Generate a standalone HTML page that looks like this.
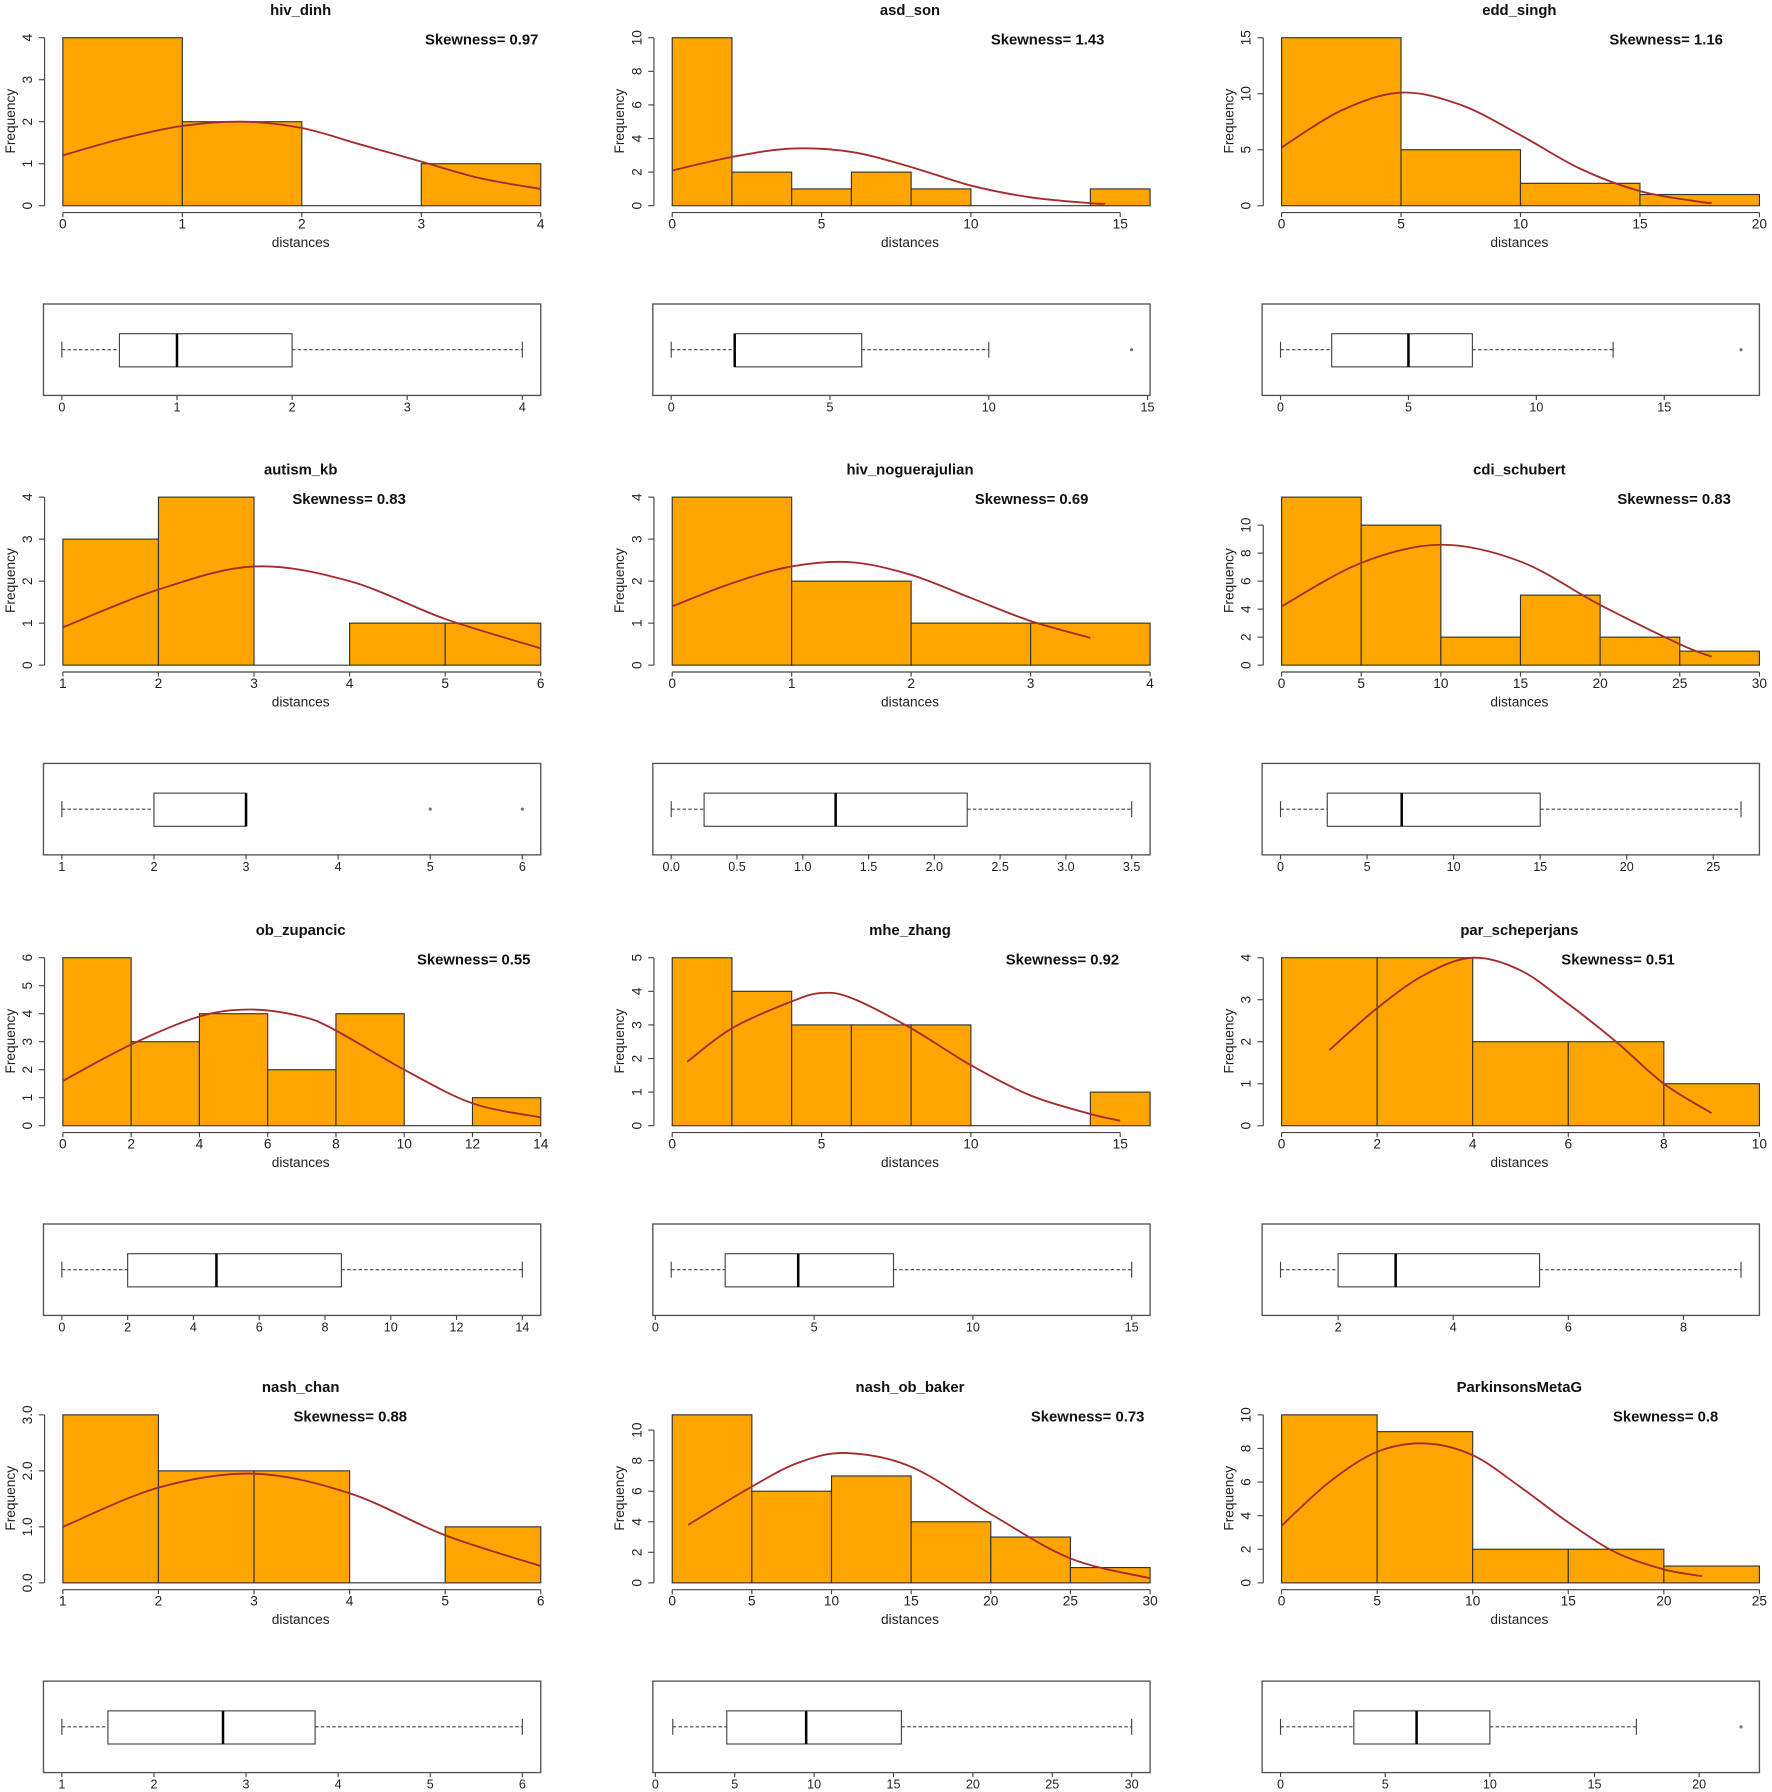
<!DOCTYPE html>
<html><head><meta charset="utf-8"><style>
html,body{margin:0;padding:0;background:#fff;}
svg{display:block;font-family:"Liberation Sans",Arial,sans-serif;}
</style></head><body>
<svg id="chart" width="1772" height="1792" viewBox="0 0 1550 1568" preserveAspectRatio="none" xmlns="http://www.w3.org/2000/svg"></svg>
<script>
// ---- data ----
const titles = ["hiv_dinh","asd_son","edd_singh","autism_kb","hiv_noguerajulian","cdi_schubert","ob_zupancic","mhe_zhang","par_scheperjans","nash_chan","nash_ob_baker","ParkinsonsMetaG"];
const skewness = ["0.97","1.43","1.16","0.83","0.69","0.83","0.55","0.92","0.51","0.88","0.73","0.8"];
const skewRight = [471,433,441,355,419,448,464,446,399,356,468,437];
const breaks = [
 [0,1,2,3,4],[0,2,4,6,8,10,12,14,16],[0,5,10,15,20],[1,2,3,4,5,6],[0,1,2,3,4],[0,5,10,15,20,25,30],
 [0,2,4,6,8,10,12,14],[0,2,4,6,8,10,12,14,16],[0,2,4,6,8,10],[1,2,3,4,5,6],[0,5,10,15,20,25,30],[0,5,10,15,20,25]];
const counts = [
 [4,2,0,1],[10,2,1,2,1,0,0,1],[15,5,2,1],[3,4,0,1,1],[4,2,1,1],[12,10,2,5,2,1],
 [6,3,4,2,4,0,1],[5,4,3,3,3,0,0,1],[4,4,2,2,1],[3,2,2,0,1],[11,6,7,4,3,1],[10,9,2,2,1]];
const xTicks = [
 [0,1,2,3,4],[0,5,10,15],[0,5,10,15,20],[1,2,3,4,5,6],[0,1,2,3,4],[0,5,10,15,20,25,30],
 [0,2,4,6,8,10,12,14],[0,5,10,15],[0,2,4,6,8,10],[1,2,3,4,5,6],[0,5,10,15,20,25,30],[0,5,10,15,20,25]];
const yTicks = [
 [0,1,2,3,4],[0,2,4,6,8,10],[0,5,10,15],[0,1,2,3,4],[0,1,2,3,4],[0,2,4,6,8,10],
 [0,1,2,3,4,5,6],[0,1,2,3,4,5],[0,1,2,3,4],[0,1,2,3],[0,2,4,6,8,10],[0,2,4,6,8,10]];
const yTickLabels = [null,null,null,null,null,null,null,null,null,["0.0","1.0","2.0","3.0"],null,null];
const curveX = [
 [0,0.5,1,1.5,2,2.5,3,3.5,4],[0,2,4,6,8,10,12,14,14.5],[0,2.5,5,7.5,10,12.5,15,17.5,18],
 [1,2,3,4,5,6],[0,0.5,1,1.5,2,2.5,3,3.5],[0,5,10,15,20,25,27],
 [0,2,4,5.5,7,8,10,12,14],[0.5,2,4,5,6,8,10,12,14,15],[1,2,3,4,5,6,7,8,9],
 [1,2,3,4,5,6],[1,5,8,11,15,20,25,30],[0,2.5,5,7.5,10,12.5,15,17.5,20,22]];
const curveY = [
 [1.2,1.6,1.9,2.0,1.85,1.45,1.05,0.65,0.4],[2.1,2.9,3.4,3.2,2.3,1.2,0.5,0.15,0.12],[5.2,8.5,10.1,9.0,6.3,3.3,1.3,0.35,0.25],
 [0.9,1.8,2.35,2.0,1.1,0.4],[1.4,1.95,2.35,2.45,2.15,1.6,1.05,0.65],[4.2,7.3,8.6,7.4,4.3,1.5,0.6],
 [1.6,2.9,3.9,4.15,3.9,3.4,2.0,0.8,0.3],[1.9,2.9,3.7,3.95,3.8,2.9,1.8,0.9,0.35,0.15],[1.8,2.8,3.6,4.0,3.7,2.9,2.0,1.0,0.3],
 [1.0,1.7,1.95,1.6,0.85,0.3],[3.8,6.3,7.9,8.5,7.6,4.5,1.6,0.3],[3.4,6.0,7.8,8.3,7.6,5.7,3.6,1.8,0.8,0.4]];
const boxDomain = [[0,4],[0,14.5],[0,18],[1,6],[0,3.5],[0,26.6],[0,14],[0.5,15],[1,9],[1,6],[1,30],[0,22]];
const boxTicks = [
 [0,1,2,3,4],[0,5,10,15],[0,5,10,15],[1,2,3,4,5,6],[0,0.5,1,1.5,2,2.5,3,3.5],[0,5,10,15,20,25],
 [0,2,4,6,8,10,12,14],[0,5,10,15],[2,4,6,8],[1,2,3,4,5,6],[0,5,10,15,20,25,30],[0,5,10,15,20]];
const boxTickLabels = [null,null,null,null,["0.0","0.5","1.0","1.5","2.0","2.5","3.0","3.5"],null,null,null,null,null,null,null];
// stats: [lowWhisker, q1, median, q3, highWhisker]
const boxStats = [
 [0,0.5,1,2,4],[0,2,2,6,10],[0,2,5,7.5,13],[1,2,3,3,3],[0,0.25,1.25,2.25,3.5],[0,2.7,7,15,26.6],
 [0,2,4.7,8.5,14],[0.5,2.2,4.5,7.5,15],[1,2,3,5.5,9],[1,1.5,2.75,3.75,6],[1.1,4.5,9.5,15.5,30],[0,3.5,6.5,10,17]];
const outliers = [[],[14.5],[18],[5,6],[],[],[],[],[],[],[],[22]];

// ---- drawing ----
const svg = document.getElementById('chart');
const NS = 'http://www.w3.org/2000/svg';
function mk(tag, attrs, parent){ const e=document.createElementNS(NS,tag); for(const k in attrs) e.setAttribute(k,attrs[k]); (parent||svg).appendChild(e); return e; }
const colOff=[0,533,1066], rowOff=[0,402,805,1205];

titles.forEach((t,i)=>{
  const cx=colOff[i%3], cy=rowOff[Math.floor(i/3)];
  const g=mk('g',{transform:`translate(${cx},${cy})`});
  
  
  const bk=breaks[i], ct=counts[i];
  const x0=bk[0], x1=bk[bk.length-1], ymax=Math.max(...ct);
  const X=v=>55+(v-x0)/(x1-x0)*418;
  const Y=v=>180-v/ymax*147;
  const title=mk('text',{x:263,y:13,'text-anchor':'middle','font-size':13,'font-weight':'bold',fill:'#111'},g);
  title.textContent=t;
  
  
  const sk=mk('text',{x:skewRight[i],y:39,'text-anchor':'end','font-size':13,'font-weight':'bold',fill:'#111'},g);
  sk.textContent='Skewness= '+skewness[i];
  
  
  // bars
  ct.forEach((c,j)=>{
    if(c<=0) { const l=mk('line',{x1:X(bk[j]),x2:X(bk[j+1]),y1:180,y2:180,stroke:'#333','stroke-width':1},g);
        return; }
    const r=mk('rect',{x:X(bk[j]),y:Y(c),width:X(bk[j+1])-X(bk[j]),height:180-Y(c),fill:'#FFA500',stroke:'#333','stroke-width':1},g);
    
    
  });
  // curve (Catmull-Rom)
  const pts=curveX[i].map((v,k)=>[X(v),Y(curveY[i][k])]);
  let d=`M${pts[0][0]},${pts[0][1]}`;
  for(let k=0;k<pts.length-1;k++){
    const p0=pts[Math.max(0,k-1)],p1=pts[k],p2=pts[k+1],p3=pts[Math.min(pts.length-1,k+2)];
    d+=` C${p1[0]+(p2[0]-p0[0])/6},${p1[1]+(p2[1]-p0[1])/6} ${p2[0]-(p3[0]-p1[0])/6},${p2[1]-(p3[1]-p1[1])/6} ${p2[0]},${p2[1]}`;
  }
  const cv=mk('path',{d:d,fill:'none',stroke:'#A52A2A','stroke-width':1.6},g);
  
  
  // y axis
  const yt=yTicks[i];
  const ya=mk('line',{x1:39,x2:39,y1:Y(yt[0]),y2:Y(yt[yt.length-1]),stroke:'#444','stroke-width':1},g);
   
  yt.forEach((v,k)=>{
    mk('line',{x1:34,x2:39,y1:Y(v),y2:Y(v),stroke:'#444'},g);
    const tl=mk('text',{x:0,y:0,transform:`translate(28,${Y(v)}) rotate(-90)`,'text-anchor':'middle','font-size':12,fill:'#222'},g);
    tl.textContent=yTickLabels[i]?yTickLabels[i][k]:String(v);
     
  });
  const yl=mk('text',{x:0,y:0,transform:'translate(13,106) rotate(-90)','text-anchor':'middle','font-size':12,fill:'#222'},g);
  yl.textContent='Frequency';
   
  // x axis
  const xt=xTicks[i];
  const xa=mk('line',{x1:X(xt[0]),x2:X(xt[xt.length-1]),y1:186,y2:186,stroke:'#444'},g);
   
  xt.forEach(v=>{
    mk('line',{x1:X(v),x2:X(v),y1:186,y2:190,stroke:'#444'},g);
    const tl=mk('text',{x:X(v),y:200,'text-anchor':'middle','font-size':12,fill:'#222'},g);
    tl.textContent=String(v);
     
  });
  const xl=mk('text',{x:263,y:216,'text-anchor':'middle','font-size':12,fill:'#222'},g);
  xl.textContent='distances';
   
  // boxplot
  const [lo,hi]=boxDomain[i], pad=(hi-lo)*0.04;
  const BX=v=>38+(v-lo+pad)/((hi-lo)+2*pad)*435;
  const fr=mk('rect',{x:38,y:266,width:435,height:80,fill:'none',stroke:'#555','stroke-width':1.2},g);
   
  const s=boxStats[i];
  const w1=mk('line',{x1:BX(s[0]),x2:BX(s[1]),y1:306,y2:306,stroke:'#444','stroke-dasharray':'3,2'},g);
   
  const w2=mk('line',{x1:BX(s[3]),x2:BX(s[4]),y1:306,y2:306,stroke:'#444','stroke-dasharray':'3,2'},g);
   
  mk('line',{x1:BX(s[0]),x2:BX(s[0]),y1:299,y2:313,stroke:'#444'},g);
  mk('line',{x1:BX(s[4]),x2:BX(s[4]),y1:299,y2:313,stroke:'#444'},g);
  const bx=mk('rect',{x:BX(s[1]),y:292,width:Math.max(0.5,BX(s[3])-BX(s[1])),height:29,fill:'#fff',stroke:'#444','stroke-width':1},g);
   
  const md=mk('line',{x1:BX(s[2]),x2:BX(s[2]),y1:292,y2:321,stroke:'#000','stroke-width':2.2},g);
   
  outliers[i].forEach(v=>{
    const o=mk('circle',{cx:BX(v),cy:306,r:1.4,fill:'#777'},g);
     
  });
  boxTicks[i].forEach((v,k)=>{
    mk('line',{x1:BX(v),x2:BX(v),y1:346,y2:350,stroke:'#444'},g);
    const tl=mk('text',{x:BX(v),y:360,'text-anchor':'middle','font-size':11,fill:'#222'},g);
    tl.textContent=boxTickLabels[i]?boxTickLabels[i][k]:String(v);
     
  });
});
</script>
</body></html>
